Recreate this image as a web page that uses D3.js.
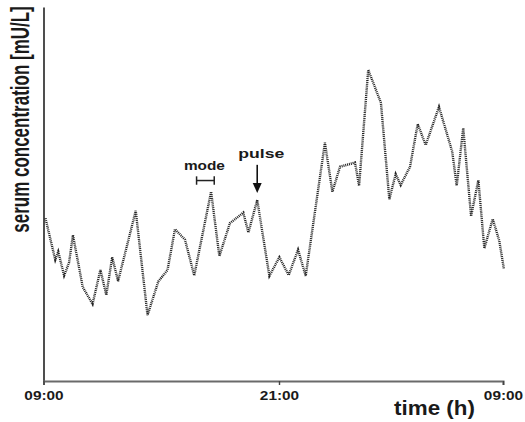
<!DOCTYPE html>
<html>
<head>
<meta charset="utf-8">
<script src="https://cdn.jsdelivr.net/npm/d3@7"></script>
<style>
  html, body { margin: 0; padding: 0; background: #fff; }
  svg { display: block; }
  text { font-family: "Liberation Sans", Arial, sans-serif; font-weight: bold; fill: #1a1a1a; }
</style>
</head>
<body>
<svg id="chart" width="525" height="422"></svg>
<script>
// hours after 09:00
const hours = [0.1, 0.6, 0.75, 1.05, 1.3, 1.5, 2.0, 2.5, 2.9, 3.2, 3.5, 3.8, 4.7, 5.3, 5.85, 6.32, 6.7, 7.21, 7.68,
  8.54, 8.96, 9.5, 10.18, 10.44, 10.89, 11.51, 12.02, 12.52, 13.02, 13.43, 14.46, 14.86, 15.27, 16.07, 16.29,
  16.78, 17.46, 17.91, 18.25, 18.52, 19.02, 19.43, 19.86, 20.57, 21.28, 21.52, 21.87, 22.29, 22.68, 23.0,
  23.45, 23.8, 24.05];
// serum concentration (relative units)
const conc = [43.5, 32.4, 34.6, 28.2, 31.6, 39.0, 25.1, 20.6, 29.7, 23.0, 33.1, 26.7, 45.5, 17.6, 26.6, 29.7, 40.6, 37.8, 28.2,
  50.6, 33.4, 42.2, 45.0, 39.7, 48.4, 28.1, 33.1, 28.3, 35.1, 28.1, 63.7, 50.6, 57.3, 58.4, 52.2,
  83.2, 74.4, 48.6, 55.3, 52.4, 57.3, 68.7, 63.1, 73.3, 61.3, 52.2, 67.6, 44.1, 53.7, 35.5,
  43.3, 37.5, 29.9];
const tickHours = [0, 12, 24];
const tickLabels = ["09:00", "21:00", "09:00"];
// annotations
const modeSpan = [7.8, 8.7], modeLevel = 53.6, modeLabelAt = [8.2, 56.4];
const pulseHour = 10.89, pulseFrom = 57.8, pulseTo = 50.3, pulseLabelAt = [11.1, 59.6];

const svg = d3.select("#chart");
const x = d3.scaleLinear().domain([0, 12, 24]).range([43.5, 279, 503]);
const y = d3.scaleLinear().domain([0, 100]).range([381, 7]);

// y axis (no ticks)
const ya = svg.append("g").attr("transform", `translate(${x(0)},0)`)
  .call(d3.axisLeft(y).tickValues([]).tickSizeOuter(0));
ya.select(".domain").attr("stroke", "#222").attr("stroke-width", 1.6);

// x axis
const xa = svg.append("g").attr("transform", `translate(0,${y(0)})`)
  .call(d3.axisBottom(x).tickValues(tickHours).tickSizeOuter(0).tickSize(4)
    .tickFormat((d, i) => tickLabels[i]));
xa.select(".domain").attr("stroke", "#6a6a6a").attr("stroke-width", 2);
xa.selectAll(".tick line").attr("stroke", "#444").attr("stroke-width", 1.4);
xa.selectAll(".tick text")
  .attr("y", null).attr("dy", null)
  .attr("transform", "translate(0,18.5) scale(1.22,1)")
  .style("font-size", "12.6px").style("font-family", "'Liberation Sans', Arial, sans-serif")
  .style("font-weight", "bold").attr("fill", "#1a1a1a");

// line
const line = d3.line().x((d, i) => x(hours[i])).y(d => y(d));
svg.append("path").datum(conc)
  .attr("d", line)
  .attr("fill", "none")
  .attr("stroke", "#222")
  .attr("stroke-width", 2.4)
  .attr("stroke-dasharray", "1,0.9")
  .attr("stroke-linejoin", "miter");

// mode bracket
const mb = svg.append("g").attr("stroke", "#222").attr("stroke-width", 1.5);
mb.append("line").attr("x1", x(modeSpan[0])).attr("x2", x(modeSpan[1])).attr("y1", y(modeLevel)).attr("y2", y(modeLevel));
modeSpan.forEach(h => mb.append("line").attr("x1", x(h)).attr("x2", x(h))
  .attr("y1", y(modeLevel) - 4.2).attr("y2", y(modeLevel) + 4.2));
svg.append("text")
  .attr("transform", `translate(${x(modeLabelAt[0])},${y(modeLabelAt[1])}) scale(1.22,1)`)
  .attr("text-anchor", "middle").style("font-size", "12.6px").text("mode");

// pulse arrow
svg.append("line").attr("x1", x(pulseHour)).attr("x2", x(pulseHour))
  .attr("y1", y(pulseFrom)).attr("y2", y(pulseTo) - 8)
  .attr("stroke", "#111").attr("stroke-width", 1.6);
const px = x(pulseHour), py = y(pulseTo);
svg.append("path").attr("d", `M${px},${py} L${px - 4.5},${py - 10} L${px + 4.5},${py - 10} Z`).attr("fill", "#111");
svg.append("text")
  .attr("transform", `translate(${x(pulseLabelAt[0])},${y(pulseLabelAt[1])}) scale(1.4,1)`)
  .attr("text-anchor", "middle").style("font-size", "12.6px").text("pulse");

// axis titles
svg.append("text")
  .attr("transform", "translate(434.5,415) scale(1.15,1)")
  .attr("text-anchor", "middle").style("font-size", "19.5px").text("time (h)");
svg.append("text")
  .attr("transform", "translate(29,119.5) rotate(-90) scale(0.68,1)")
  .attr("text-anchor", "middle").style("font-size", "25px").text("serum concentration [mU/L]");
</script>
</body>
</html>
